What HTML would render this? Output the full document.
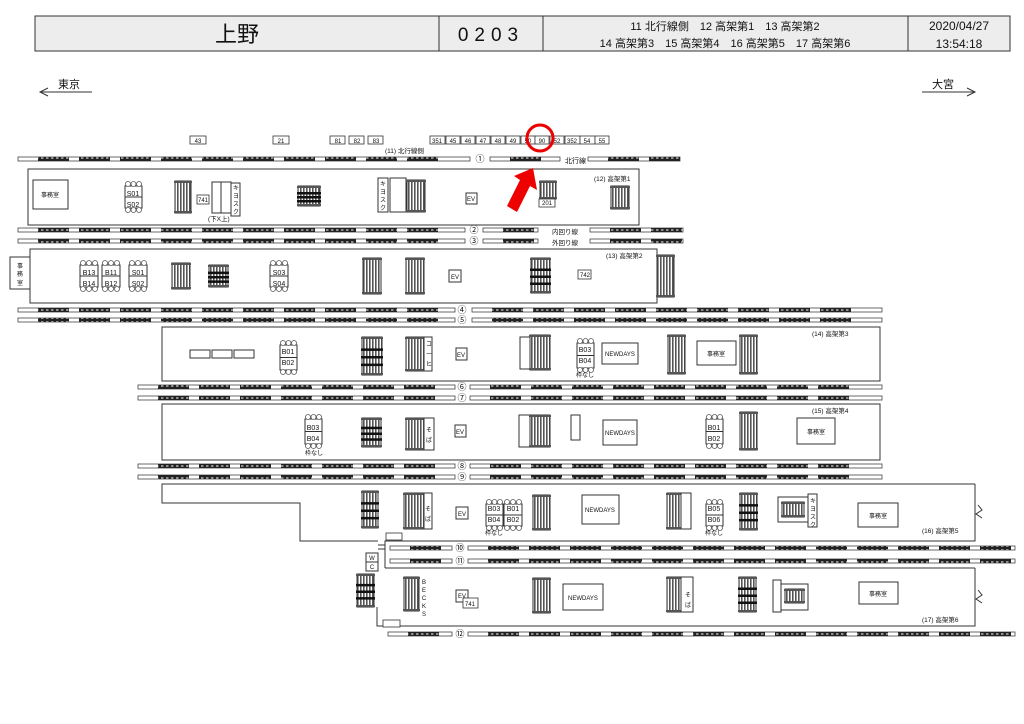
<!DOCTYPE html>
<html><head><meta charset="utf-8">
<style>
html,body{margin:0;padding:0;background:#fff;}
svg{display:block;font-family:"Liberation Sans","Noto Sans CJK JP",sans-serif;}
</style></head>
<body>
<svg id="s" width="1024" height="724" viewBox="0 0 1024 724" xmlns="http://www.w3.org/2000/svg">
<defs>
<pattern id="st" width="3" height="4" patternUnits="userSpaceOnUse"><rect width="3" height="4" fill="#fff"/><rect width="1.6" height="4" fill="#555"/></pattern>
<pattern id="tb" width="5" height="4" patternUnits="userSpaceOnUse"><rect width="5" height="4" fill="#222"/><rect x="1" y="1.3" width="2.5" height="1.4" fill="#bbb"/></pattern>
</defs>
<rect x="35" y="16" width="975" height="35" fill="#ededed" stroke="#333" stroke-width="1"/>
<line x1="439" y1="16" x2="439" y2="51" stroke="#333"/>
<line x1="543" y1="16" x2="543" y2="51" stroke="#333"/>
<line x1="908" y1="16" x2="908" y2="51" stroke="#333"/>
<text x="237" y="42" font-size="22" text-anchor="middle" fill="#111">上野</text>
<text x="491" y="41" font-size="19" text-anchor="middle" fill="#111" letter-spacing="6">0203</text>
<text x="725" y="30" font-size="11" text-anchor="middle" fill="#111">11 北行線側　12 高架第1　13 高架第2</text>
<text x="725" y="47" font-size="11" text-anchor="middle" fill="#111">14 高架第3　15 高架第4　16 高架第5　17 高架第6</text>
<text x="959" y="30" font-size="12" text-anchor="middle" fill="#111">2020/04/27</text>
<text x="959" y="48" font-size="12" text-anchor="middle" fill="#111">13:54:18</text>
<text x="58" y="88" font-size="11" fill="#111">東京</text>
<polyline points="48,88 40,92 48,96" fill="none" stroke="#333"/><line x1="40" y1="92" x2="92" y2="92" stroke="#333"/>
<text x="932" y="88" font-size="11" fill="#111">大宮</text>
<polyline points="967,88 975,92 967,96" fill="none" stroke="#333"/><line x1="922" y1="92" x2="975" y2="92" stroke="#333"/>
<g id="g"></g>
<g font-size="6" fill="#111" text-anchor="middle">
<text x="198" y="143">43</text><text x="281" y="143">21</text><text x="338" y="143">81</text><text x="357" y="143">82</text><text x="376" y="143">83</text>
<text x="437" y="143">351</text><text x="453" y="143">45</text><text x="468" y="143">46</text><text x="483" y="143">47</text><text x="498" y="143">48</text><text x="513" y="143">49</text><text x="528" y="143">50</text><text x="542" y="143">90</text><text x="557" y="143">52</text><text x="572" y="143">352</text><text x="587" y="143">54</text><text x="602" y="143">55</text>
</g>
<circle cx="540" cy="138" r="13" fill="none" stroke="#e00" stroke-width="3"/>
<polygon points="533,168 537,190 530,186 517,212 507,206 520,180 514,176" fill="#e00"/>
<g font-size="9" fill="#111" text-anchor="middle">
<text x="480" y="162">①</text><text x="474" y="233">②</text><text x="474" y="244">③</text><text x="462" y="313">④</text><text x="462" y="323">⑤</text>
<text x="462" y="390">⑥</text><text x="462" y="401">⑦</text><text x="462" y="469">⑧</text><text x="462" y="480">⑨</text><text x="460" y="551">⑩</text><text x="460" y="564">⑪</text><text x="460" y="637">⑫</text>
</g>
<g font-size="6.5" fill="#111">
<text x="385" y="153">(11) 北行線側</text>
<text x="565" y="163" font-size="7">北行線</text>
<text x="552" y="234">内回り線</text><text x="552" y="245">外回り線</text>
<text x="594" y="181">(12) 高架第1</text>
<text x="606" y="258">(13) 高架第2</text>
<text x="812" y="336">(14) 高架第3</text>
<text x="812" y="413">(15) 高架第4</text>
<text x="922" y="533">(16) 高架第5</text>
<text x="922" y="622">(17) 高架第6</text>
<text x="208" y="221">(下X上)</text>
</g>
<g font-size="6" fill="#111" text-anchor="middle">
<text x="50" y="197">事務室</text><text x="20" y="268">事</text><text x="20" y="276">務</text><text x="20" y="285">室</text>
<text x="716" y="356">事務室</text><text x="816" y="434">事務室</text><text x="878" y="518">事務室</text><text x="878" y="596">事務室</text>
<text x="620" y="356">NEWDAYS</text><text x="620" y="435">NEWDAYS</text><text x="600" y="512">NEWDAYS</text><text x="583" y="600">NEWDAYS</text>
<text x="471" y="201">EV</text><text x="455" y="279">EV</text><text x="461" y="357">EV</text><text x="460" y="434">EV</text><text x="462" y="516">EV</text><text x="462" y="598">EV</text>
<text x="203" y="202">741</text><text x="547" y="205">201</text><text x="585" y="277">742</text><text x="470" y="606">741</text>
<text x="372" y="560">W</text><text x="372" y="569">C</text>
<text x="314" y="455">枠なし</text><text x="585" y="377">枠なし</text><text x="494" y="535">枠なし</text><text x="714" y="535">枠なし</text>
</g>
<g font-size="7" fill="#111" text-anchor="middle">
<text x="133" y="196">S01</text><text x="133" y="207">S02</text>
<text x="89" y="275">B13</text><text x="89" y="286">B14</text><text x="111" y="275">B11</text><text x="111" y="286">B12</text>
<text x="138" y="275">S01</text><text x="138" y="286">S02</text><text x="279" y="275">S03</text><text x="279" y="286">S04</text>
<text x="288" y="354">B01</text><text x="288" y="365">B02</text><text x="585" y="352">B03</text><text x="585" y="363">B04</text>
<text x="313" y="430">B03</text><text x="313" y="441">B04</text><text x="714" y="430">B01</text><text x="714" y="441">B02</text>
<text x="494" y="511">B03</text><text x="494" y="522">B04</text><text x="513" y="511">B01</text><text x="513" y="522">B02</text>
<text x="714" y="511">B05</text><text x="714" y="522">B06</text>
</g>
<g font-size="6" fill="#111" text-anchor="middle">
<text x="236" y="190">キ</text><text x="236" y="198">ヨ</text><text x="236" y="206">ス</text><text x="236" y="214">ク</text>
<text x="383" y="186">キ</text><text x="383" y="194">ヨ</text><text x="383" y="202">ス</text><text x="383" y="210">ク</text>
<text x="429" y="346">コ</text><text x="429" y="356">ー</text><text x="429" y="366">ヒ</text>
<text x="429" y="432">そ</text><text x="429" y="442">ば</text><text x="428" y="511">そ</text><text x="428" y="521">ば</text><text x="688" y="597">そ</text><text x="688" y="607">ば</text>
<text x="813" y="503">キ</text><text x="813" y="511">ヨ</text><text x="813" y="519">ス</text><text x="813" y="527">ク</text>
<text x="424" y="584">B</text><text x="424" y="592">E</text><text x="424" y="600">C</text><text x="424" y="608">K</text><text x="424" y="616">S</text>
</g>
</svg>
<script>
var g=document.getElementById('g'),NS='http://www.w3.org/2000/svg';
function el(t,a){var e=document.createElementNS(NS,t);for(var k in a)e.setAttribute(k,a[k]);g.appendChild(e);return e;}
function R(x,y,w,h,f,sw){el('rect',{x:x,y:y,width:w,height:h,fill:f||'#fff',stroke:'#333','stroke-width':sw||1});}
function L(x1,y1,x2,y2){el('line',{x1:x1,y1:y1,x2:x2,y2:y2,stroke:'#333','stroke-width':1});}
function P(pts){el('polyline',{points:pts,fill:'none',stroke:'#333','stroke-width':1});}
function T(y,segs){segs.forEach(function(s){
 el('rect',{x:s[0],y:y-2,width:s[1]-s[0],height:4,fill:'#fff',stroke:'#444','stroke-width':0.8});
 for(var x=s[0]+20;x+30<=s[1];x+=41)el('rect',{x:x,y:y-2,width:31,height:4,fill:'url(#tb)'});
});}
function S(x,y,w,h){R(x,y,w,h,'url(#st)',1);el('rect',{x:x-1,y:y,width:w+2,height:2,fill:'#555'});el('rect',{x:x-1,y:y+h-2,width:w+2,height:2,fill:'#555'});}
function E(x,y,w,h){S(x,y,w,h);for(var i=0;i<3;i++)el('rect',{x:x-1,y:y+h*0.3+i*h*0.2,width:w+2,height:2.5,fill:'#111'});}
function B(x,y,w,h){R(x,y,w,h,'#fff',1);for(var i=0;i<3;i++){el('circle',{cx:x+3+i*(w-6)/2,cy:y-2,r:2.5,fill:'#fff',stroke:'#555','stroke-width':0.8});el('circle',{cx:x+3+i*(w-6)/2,cy:y+h+2,r:2.5,fill:'#fff',stroke:'#555','stroke-width':0.8});}L(x,y+h/2,x+w,y+h/2);}
[[190,16],[273,16],[330,15],[349,15],[368,15],[430,15],[446,14],[461,14],[476,14],[491,14],[506,14],[521,14],[535,14],[550,14],[565,15],[580,15],[595,14]].forEach(function(b){R(b[0],136,b[1],8,'#fff',0.8);});
T(159,[[18,470],[490,560],[588,680]]);
T(230,[[18,465],[483,538],[590,683]]);T(241,[[18,465],[483,538],[590,683]]);
T(310,[[18,455],[472,882]]);T(320,[[18,455],[472,882]]);
T(387,[[138,455],[470,882]]);T(398,[[138,455],[470,882]]);
T(466,[[138,455],[470,882]]);T(477,[[138,455],[470,882]]);
T(548,[[390,452],[468,1015]]);T(561,[[390,452],[468,1015]]);T(634,[[388,452],[468,1015]]);
R(28,169,611,56);R(30,249,627,54);R(10,257,20,32);R(162,327,718,54);R(162,404,718,56);
// P16/P17 outline
P('975,484 162,484 162,503 300,503 300,541 378,541');
L(378,545,385,545);L(378,549,385,549);
P('385,568 385,541 975,541 975,484');
P('975,568 385,568');
P('377,607 377,626 975,626 975,568');
R(366,553,12,9);R(366,562,12,9);R(386,533,16,7,'#fff',0.8);R(383,620,17,7,'#fff',0.8);
// P12
R(33,180,35,29);B(125,186,17,22);S(175,181,16,32);R(197,195,12,9,'#fff',0.8);R(212,182,19,31);L(221,182,221,213);R(231,183,9,33);
E(298,186,22,20);R(378,178,10,34);R(390,178,16,34);S(407,180,18,32);R(466,193,11,11);S(540,181,16,18);R(539,199,16,8,'#fff',0.8);S(611,186,18,23);
// P13
B(80,265,18,22);B(102,265,18,22);B(129,265,18,22);S(172,263,18,26);E(209,265,19,22);B(270,265,18,22);S(363,258,18,36);S(406,258,18,36);R(449,270,12,12);E(531,258,19,35);R(578,270,13,9,'#fff',0.8);S(657,255,17,42);
// P14
R(190,350,20,8);R(212,350,20,8);R(234,350,20,8);B(280,345,17,25);E(362,337,20,38);S(406,337,18,34);R(424,337,8,34);R(456,348,11,12);R(520,337,10,32);S(530,335,20,35);B(577,343,17,25);R(602,343,36,21);S(668,335,17,39);R(697,341,39,24);S(740,335,17,39);
// P15
B(305,419,17,25);E(362,418,19,29);S(406,418,18,32);R(424,418,10,32);R(455,425,11,12);R(519,415,11,32);S(530,415,20,32);R(571,415,9,25);R(603,420,34,25);B(706,419,17,25);S(740,412,17,38);R(797,418,38,26);
// P16
E(362,491,16,37);S(404,493,20,36);R(424,493,8,36);R(456,507,12,12);B(486,504,17,22);B(504,504,18,22);S(533,495,17,35);R(582,495,37,29);S(667,493,14,36);R(681,493,10,36);B(706,504,17,22);E(740,493,17,37);R(778,497,30,25);S(782,502,22,15);R(808,494,9,33);R(858,503,40,24);
// P17
E(357,574,17,33);S(404,577,15,34);R(456,590,12,12);R(463,598,15,10,'#fff',0.8);S(533,578,17,35);R(563,584,40,26);S(667,577,14,35);R(681,577,12,35);E(739,577,17,35);R(773,580,8,32);R(781,584,27,26);S(785,589,19,14);R(859,582,39,22);
el('polyline',{points:'978,505 982,510 976,514 982,518',fill:'none',stroke:'#333'});
el('polyline',{points:'978,590 982,595 976,599 982,603',fill:'none',stroke:'#333'});
</script>
</body></html>
